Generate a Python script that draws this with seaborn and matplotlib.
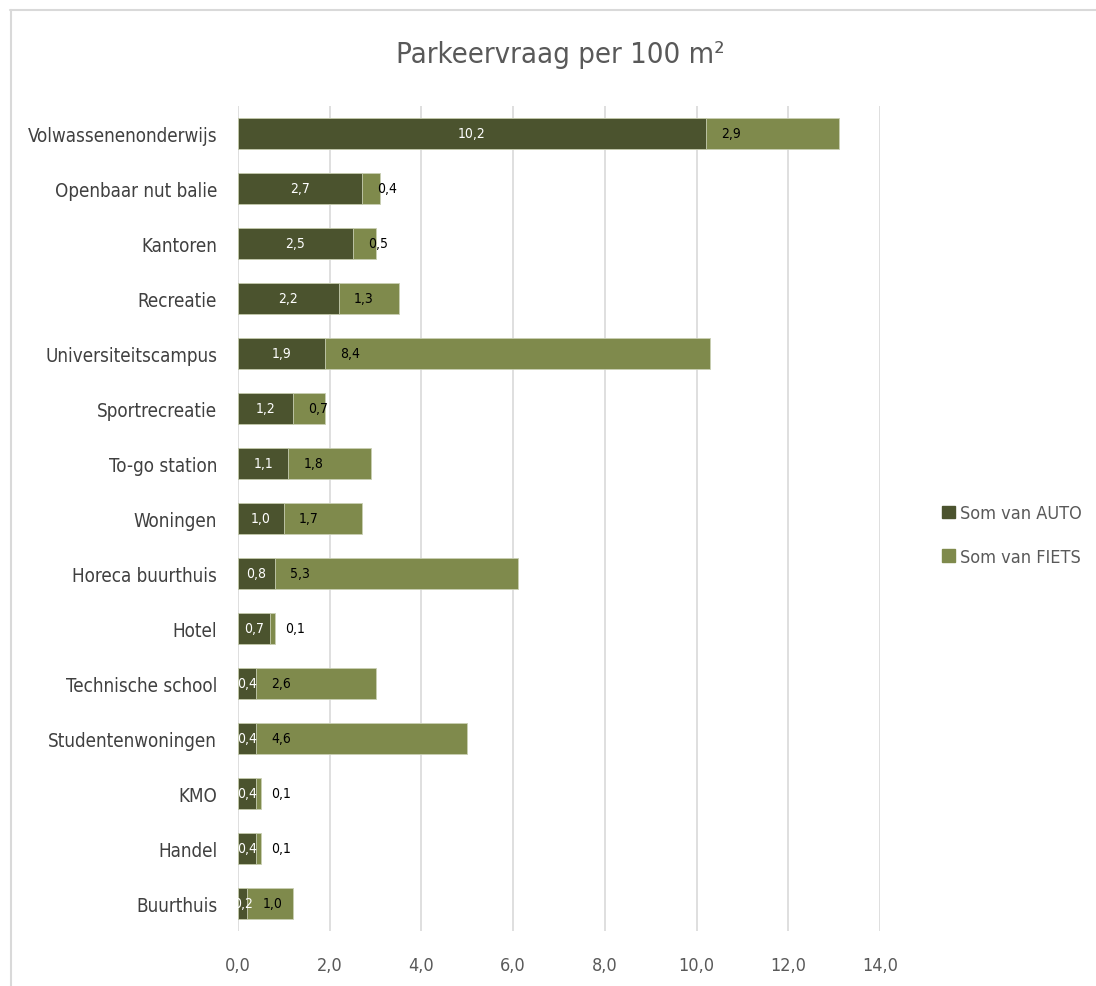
import matplotlib
matplotlib.use("Agg")
import matplotlib.pyplot as plt
from matplotlib import font_manager as fm
from matplotlib.lines import Line2D
import seaborn as sns
import pandas as pd

# Parking demand per 100 m2, per function
categories = [
    "Volwassenenonderwijs", "Openbaar nut balie", "Kantoren", "Recreatie",
    "Universiteitscampus", "Sportrecreatie", "To-go station", "Woningen",
    "Horeca buurthuis", "Hotel", "Technische school", "Studentenwoningen",
    "KMO", "Handel", "Buurthuis",
]
auto = [10.2, 2.7, 2.5, 2.2, 1.9, 1.2, 1.1, 1.0, 0.8, 0.7, 0.4, 0.4, 0.4, 0.4, 0.2]
fiets = [2.9, 0.4, 0.5, 1.3, 8.4, 0.7, 1.8, 1.7, 5.3, 0.1, 2.6, 4.6, 0.1, 0.1, 1.0]
x_ticks = [0, 2, 4, 6, 8, 10, 12, 14]
series_names = ["Som van AUTO", "Som van FIETS"]

COL_AUTO = "#4b532e"
COL_FIETS = "#7f8a4c"
TXT = "#595959"

sns.set_theme(style="white")

# pick a narrow sans face if one is present
names = {f.name for f in fm.fontManager.ttflist}
condensed = [f for f in fm.fontManager.ttflist
             if f.name == "DejaVu Sans" and str(f.stretch) in ("condensed", "semi-condensed", "500", "300")]
if "Liberation Sans Narrow" in names:
    plt.rcParams["font.family"] = ["Liberation Sans Narrow", "DejaVu Sans"]
elif condensed:
    plt.rcParams["font.family"] = ["DejaVu Sans"]
    plt.rcParams["font.stretch"] = "condensed"
else:
    plt.rcParams["font.family"] = ["Roboto", "DejaVu Sans"]

df = pd.DataFrame({"cat": categories, "auto": auto, "fiets": fiets})
df["total"] = df["auto"] + df["fiets"]

fig = plt.figure(figsize=(10.96, 9.87), dpi=100)
ax = fig.add_axes([238 / 1096, 1 - 932 / 987, (880 - 238) / 1096, (932 - 107) / 987])

# stacked bars: draw the total first, then the AUTO part on top of it
sns.barplot(data=df, y="cat", x="total", color=COL_FIETS, orient="h", width=0.58,
            ax=ax, saturation=1, edgecolor="#c9cfb3", linewidth=0.6)
sns.barplot(data=df, y="cat", x="auto", color=COL_AUTO, orient="h", width=0.58,
            ax=ax, saturation=1, edgecolor="#c9cfb3", linewidth=0.6)

fiets_bars = ax.containers[0]
auto_bars = ax.containers[1]

for rect, a, f in zip(auto_bars, auto, fiets):
    yc = rect.get_y() + rect.get_height() / 2
    ax.text(a / 2, yc, f"{a:.1f}".replace(".", ","), ha="center", va="center",
            color="white", fontsize=10)
    ax.annotate(f"{f:.1f}".replace(".", ","), xy=(a, yc), xytext=(18, 0),
                textcoords="offset points", ha="center", va="center",
                color="black", fontsize=10)

ax.set_xlim(0, 14)
ax.set_ylim(len(categories) - 0.5, -0.5)
ax.set_xticks(x_ticks)
ax.set_xticklabels([f"{v:.1f}".replace(".", ",") for v in x_ticks])
ax.set_xlabel("")
ax.set_ylabel("")
ax.grid(axis="x", color="#d9d9d9", linewidth=1.2)
ax.set_axisbelow(True)
for s in ax.spines.values():
    s.set_visible(False)
ax.tick_params(axis="x", length=0, pad=18, labelsize=13, labelcolor=TXT)
ax.tick_params(axis="y", length=0, pad=15, labelsize=13.5, labelcolor="#404040")

fig.text(560 / 1096, 1 - 55 / 987, "Parkeervraag per 100 m²", ha="center", va="center",
         fontsize=21, color=TXT)

handles = [plt.Rectangle((0, 0), 1, 1, color=COL_AUTO),
           plt.Rectangle((0, 0), 1, 1, color=COL_FIETS)]
fig.legend(handles, series_names, loc="center left", bbox_to_anchor=(926 / 1096, 1 - 536 / 987),
           frameon=False, fontsize=13, labelcolor=TXT, handlelength=0.7, handleheight=0.7,
           handletextpad=0.3, labelspacing=1.4)

# outer frame lines
fig.add_artist(Line2D([10.5 / 1096, 10.5 / 1096], [0, 1 - 11 / 987], color="#d9d9d9", lw=1.5))
fig.add_artist(Line2D([10 / 1096, 1], [1 - 11 / 987, 1 - 11 / 987], color="#d9d9d9", lw=1.5))

fig.savefig("out.png", dpi=100)
